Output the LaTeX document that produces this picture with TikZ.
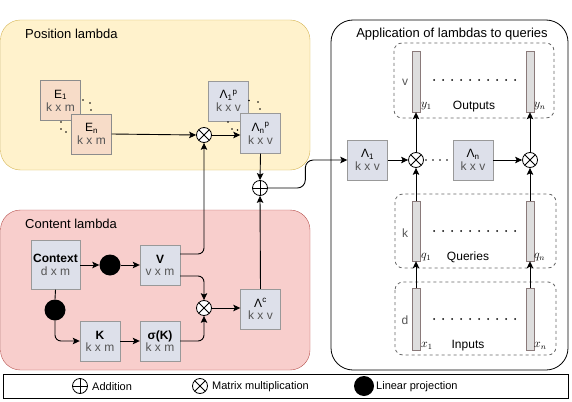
\documentclass[tikz,border=0pt]{standalone}
\usepackage{fontspec}
\setmainfont{Liberation Sans}
\usetikzlibrary{arrows.meta,calc}
\definecolor{posfill}{HTML}{FFF2CC}
\definecolor{posdraw}{HTML}{D6B656}
\definecolor{confill}{HTML}{F8CECC}
\definecolor{condraw}{HTML}{B85450}
\definecolor{boxfill}{HTML}{DDE0EA}
\definecolor{efill}{HTML}{F7DCC8}
\definecolor{subgray}{HTML}{555555}
\definecolor{bardraw}{HTML}{8A7A7A}
\begin{document}
\begin{tikzpicture}[x=1pt,y=-1pt,font=\fontsize{12}{12}\selectfont,
  every node/.style={inner sep=0pt},
  ttl/.style={font=\fontsize{13}{14}\selectfont},
  lgd/.style={font=\fontsize{11}{12}\selectfont},
  arr/.style={-{Stealth[length=7pt,width=6.5pt,inset=1.5pt]}, line width=0.9pt},
  ln/.style={line width=0.9pt},
  mat/.style={draw=black!40, fill=boxfill, minimum width=40, minimum height=40, align=center},
  emat/.style={mat, fill=efill, draw=black!45},
  opc/.style={circle, draw, fill=white, minimum size=15, line width=0.8pt},
  oplus/.style={opc, path picture={\draw[line width=0.8pt] (path picture bounding box.north) -- (path picture bounding box.south) (path picture bounding box.west) -- (path picture bounding box.east);}},
  otimes/.style={opc, path picture={\draw[line width=0.8pt]
    ($(path picture bounding box.north west)!0.146!(path picture bounding box.south east)$) -- ($(path picture bounding box.north west)!0.854!(path picture bounding box.south east)$)
    ($(path picture bounding box.north east)!0.146!(path picture bounding box.south west)$) -- ($(path picture bounding box.north east)!0.854!(path picture bounding box.south west)$);}},
  proj/.style={circle, fill=black, minimum size=21},
  vbar/.style={draw=bardraw, fill=black!13, minimum width=8},
  grp/.style={draw=black!60, dashed, rounded corners=8, line width=0.8pt},
  sub/.style={text=subgray}
]
\useasboundingbox (0,0) rectangle (572,401);
\fill[white] (0,0) rectangle (572,401);

% big containers
\draw[fill=posfill, draw=posdraw, rounded corners=20] (0.5,20) rectangle (310,170);
\node[ttl, anchor=west] (tpos) at (25,34) {Position lambda};
\draw[fill=confill, draw=condraw, rounded corners=20] (0.5,210) rectangle (310,370);
\node[ttl, anchor=west] (tcon) at (25,224) {Content lambda};
\draw[fill=white, draw=black, rounded corners=22, line width=0.8pt] (331,20) rectangle (568,370);
\node[ttl] (tapp) at (452,34) {Application of lambdas to queries};

% position lambda
\node[emat] (E1) at (60.5,100.5) {E\textsubscript{1}\\[1pt]{\color{subgray}k x m}};
\node[emat] (En) at (91.5,134) {E\textsubscript{n}\\[1pt]{\color{subgray}k x m}};
\foreach \p in {(83,100),(90,103),(91,110),(61,122),(61,129),(66,132)}
  \fill \p circle (0.9);
\node[mat] (L1p) at (228.5,101) {Λ\textsubscript{1}\textsuperscript{p}\\[1pt]{\color{subgray}k x v}};
\node[mat] (Lnp) at (260.5,133.5) {Λ\textsubscript{n}\textsuperscript{p}\\[1pt]{\color{subgray}k x v}};
\foreach \p in {(249,100.5),(258,102),(260,109),(228,122),(232,129),(237.5,130)}
  \fill \p circle (0.9);
\node[otimes] (otP) at (204,135) {};
\node[oplus] (plus) at (260,188) {};

% content lambda
\node[mat, minimum width=49, minimum height=49] (Ctx) at (55.5,265) {\textbf{Context}\\[1pt]{\color{subgray}d x m}};
\node[proj] (pr1) at (110,265) {};
\node[proj] (pr2) at (55,310) {};
\node[mat] (V) at (160,265) {\textbf{V}\\[0pt]{\color{subgray}v x m}};
\node[mat] (K) at (100,341) {\textbf{K}\\[0pt]{\color{subgray}k x m}};
\node[mat] (sK) at (160,341) {\textbf{σ(K)}\\[0pt]{\color{subgray}k x m}};
\node[otimes] (otC) at (204,308) {};
\node[mat] (Lc) at (260.5,309) {Λ\textsuperscript{c}\\[0pt]{\color{subgray}k x v}};

% application
\node[mat] (L1) at (367.5,160) {Λ\textsubscript{1}\\[1pt]{\color{subgray}k x v}};
\node[mat] (Ln) at (473,160) {Λ\textsubscript{n}\\[1pt]{\color{subgray}k x v}};
\node[otimes] (ot3) at (416,160) {};
\node[otimes] (ot4) at (530,160) {};

\draw[grp] (394,43) rectangle (554,118);
\draw[grp] (395,194) rectangle (556,268);
\draw[grp] (395,282) rectangle (556,355);

\node[vbar, minimum height=61] (y1) at (416,81.5) {};
\node[vbar, minimum height=61] (yn) at (530,81.5) {};
\node[vbar, minimum height=60] (q1) at (416,231) {};
\node[vbar, minimum height=60] (qn) at (530,231) {};
\node[vbar, minimum height=62] (x1) at (416,319) {};
\node[vbar, minimum height=62] (xn) at (530,319) {};

\node[sub] (lv) at (405,82) {v};
\node[sub] (lk) at (405,233) {k};
\node[sub] (ld) at (405,320) {d};
\foreach \y in {80,231,319}
  \foreach \x in {434,443,...,516}
    \fill (\x,\y) circle (1);
\node[anchor=west] (ly1) at (421,106) {$y_1$};
\node (lout) at (474,107) {Outputs};
\node[anchor=west] (lyn) at (534,106) {$y_n$};
\node[anchor=west] (lq1) at (421,257) {$q_1$};
\node (lque) at (468,257) {Queries};
\node[anchor=west] (lqn) at (534,257) {$q_n$};
\node[anchor=west] (lx1) at (421,346) {$x_1$};
\node (linp) at (468,346) {Inputs};
\node[anchor=west] (lxn) at (534,346) {$x_n$};

% connectors: position lambda
\draw[arr] (En.east) -- (otP.west);
\draw[arr] (otP.east) -- (otP.east -| Lnp.west);
\draw[arr] (Lnp.south) -- (plus.north);
\draw[arr] (Lc.north) -- (plus.south);
\draw[arr, rounded corners=6] ([yshift=11pt]V.east) -| (otP.south);

% connectors: content lambda
\draw[arr] (Ctx.east) -- (pr1.west);
\draw[arr] (pr1.east) -- (V.west);
\draw[ln] (Ctx.south) -- (pr2.north);
\draw[arr, rounded corners=6] (pr2.south) |- (K.west);
\draw[arr] (K.east) -- (sK.west);
\draw[arr, rounded corners=6] ([yshift=-11pt]V.east) -| (otC.north);
\draw[arr, rounded corners=6] (sK.east) -| (otC.south);
\draw[arr] (otC.east) -- (otC.east -| Lc.west);

% to application
\draw[arr, rounded corners=8] (plus.east) -| ([xshift=-42pt]L1.west) -- (L1.west);
\draw[arr] (L1.east) -- (ot3.west);
\foreach \x in {426,433,440,447}
  \fill (\x,160) circle (0.9);
\draw[arr] (Ln.east) -- (ot4.west);
\draw[arr] (ot3.north) -- (y1.south);
\draw[arr] (ot4.north) -- (yn.south);
\draw[arr] (q1.north) -- (ot3.south);
\draw[arr] (qn.north) -- (ot4.south);
\draw[arr] (x1.north) -- (q1.south);
\draw[arr] (xn.north) -- (qn.south);

% legend
\draw[line width=0.8pt] (3,374) rectangle (568,398);
\node[oplus] (lgp) at (80,386) {};
\node[lgd, anchor=west] (lgpt) at (92,386.5) {Addition};
\node[otimes] (lgt) at (200,386) {};
\node[lgd, anchor=west] (lgtt) at (212,386.5) {Matrix multiplication};
\node[proj, minimum size=20] (lgl) at (364,386) {};
\node[lgd, anchor=west] (lglt) at (376,386.5) {Linear projection};
\end{tikzpicture}
\end{document}
